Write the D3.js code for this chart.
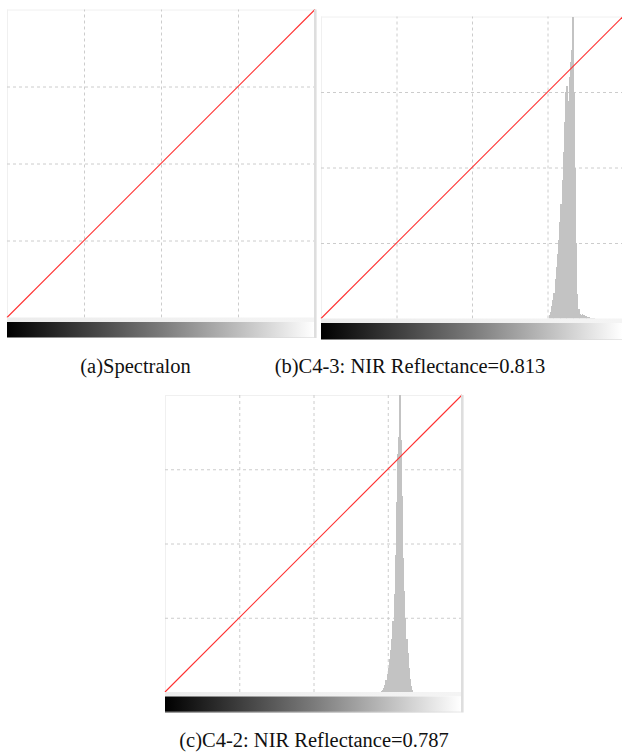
<!DOCTYPE html>
<html>
<head>
<meta charset="utf-8">
<script src="https://cdn.jsdelivr.net/npm/d3@7"></script>
<style>
  html, body { margin: 0; padding: 0; background: #ffffff; }
  svg { display: block; }
</style>
</head>
<body>
<svg id="chart" width="622" height="754"></svg>
<script>
// ---------------- data ----------------
const captions = [
  "(a)Spectralon",
  "(b)C4-3: NIR Reflectance=0.813",
  "(c)C4-2: NIR Reflectance=0.787"
];
const gridFractions = [0.25, 0.5, 0.75];      // dashed grid positions (fraction of range)
const levelDomain = [0, 256];                  // grey levels on x
const countDomain = [0, 1];                    // normalised histogram counts on y
const diagonalX = [0, 256];                    // identity (stretch) line
const diagonalY = [0, 1];

// panel (a): Spectralon – no histogram visible
const histAStart = 0;
const histA = [];

// panel (b): C4-3 histogram, normalised counts, one value per grey level starting at histBStart
const histBStart = 193;
const histB = [0.01, 0.023, 0.04, 0.06, 0.085, 0.13, 0.17, 0.215, 0.26, 0.32,
               0.38, 0.46, 0.55, 0.65, 0.75, 0.77, 0.72, 0.80, 0.85, 0.89,
               1.0, 0.75, 0.5, 0.25, 0.08, 0.03, 0.015, 0.012, 0.015, 0.01,
               0.012, 0.008, 0.006, 0.005, 0.004, 0.003, 0.003, 0.002, 0.002];

// panel (c): C4-2 histogram
const histCStart = 186;
const histC = [0.003, 0.006, 0.015, 0.025, 0.04, 0.06, 0.08, 0.11, 0.14, 0.18,
               0.24, 0.33, 0.46, 0.64, 0.80, 0.86, 1.0, 0.85, 0.66, 0.45,
               0.34, 0.25, 0.18, 0.13, 0.08, 0.045, 0.02, 0.006];

// ---------------- layout ----------------
const panels = [
  { x: 7,   y: 9.5,  size: 308, bandH: 4.5, gradH: 16, start: histAStart, hist: histA,
    caption: captions[0], cx: 135.5, cy: 373 },
  { x: 321, y: 16.5, size: 302, bandH: 4.5, gradH: 17, start: histBStart, hist: histB,
    caption: captions[1], cx: 410, cy: 373 },
  { x: 165, y: 395,  size: 297, bandH: 4.5, gradH: 16, start: histCStart, hist: histC,
    caption: captions[2], cx: 314, cy: 747 }
];

const svg = d3.select("#chart");

const defs = svg.append("defs");
const grad = defs.append("linearGradient").attr("id", "greyRamp")
  .attr("x1", "0%").attr("x2", "100%").attr("y1", "0%").attr("y2", "0%");
grad.append("stop").attr("offset", "0%").attr("stop-color", "#000000");
grad.append("stop").attr("offset", "50%").attr("stop-color", "#7a7a7a");
grad.append("stop").attr("offset", "100%").attr("stop-color", "#ffffff");

const bandGrad = defs.append("linearGradient").attr("id", "bandRamp")
  .attr("x1", "0%").attr("x2", "100%").attr("y1", "0%").attr("y2", "0%");
bandGrad.append("stop").attr("offset", "0%").attr("stop-color", "#ececec");
bandGrad.append("stop").attr("offset", "100%").attr("stop-color", "#f4f4f4");

panels.forEach((p, i) => {
  const g = svg.append("g").attr("transform", `translate(${p.x},${p.y})`);
  const x = d3.scaleLinear().domain(levelDomain).range([0, p.size]);
  const y = d3.scaleLinear().domain(countDomain).range([p.size, 0]);

  const clipId = "clip" + i;
  defs.append("clipPath").attr("id", clipId)
    .append("rect").attr("x", 0).attr("y", 0).attr("width", p.size).attr("height", p.size);

  // plot background
  g.append("rect").attr("x", 0).attr("y", 0).attr("width", p.size).attr("height", p.size)
    .attr("fill", "#ffffff");

  // faint top and left borders
  g.append("line").attr("x1", 0).attr("x2", p.size).attr("y1", 0.5).attr("y2", 0.5)
    .attr("stroke", "#f0f0f0").attr("stroke-width", 1);
  g.append("line").attr("x1", 0.5).attr("x2", 0.5).attr("y1", 0).attr("y2", p.size)
    .attr("stroke", "#f0f0f0").attr("stroke-width", 1);

  // dashed grid via axes
  const xGrid = d3.axisBottom(x)
    .tickValues(gridFractions.map(f => levelDomain[0] + f * (levelDomain[1] - levelDomain[0])))
    .tickSize(-p.size).tickFormat("");
  const yGrid = d3.axisLeft(y)
    .tickValues(gridFractions.map(f => countDomain[0] + f * (countDomain[1] - countDomain[0])))
    .tickSize(-p.size).tickFormat("");
  const gx = g.append("g").attr("transform", `translate(0,${p.size})`).call(xGrid);
  const gy = g.append("g").call(yGrid);
  [gx, gy].forEach(ax => {
    ax.select(".domain").remove();
    ax.selectAll("line").attr("stroke", "#cccccc").attr("stroke-width", 1)
      .attr("stroke-dasharray", "3,3");
  });

  // histogram bars
  const bins = p.hist.map((v, k) => ({ level: p.start + k, count: v }));
  g.append("g").attr("clip-path", `url(#${clipId})`)
    .selectAll("rect").data(bins).enter().append("rect")
    .attr("x", d => x(d.level))
    .attr("width", d => x(d.level + 1) - x(d.level) + 0.15)
    .attr("y", d => y(d.count))
    .attr("height", d => y(0) - y(d.count))
    .attr("fill", "#c3c3c3")
    .attr("shape-rendering", "crispEdges");

  // identity (stretch) line
  const diag = diagonalX.map((v, k) => [v, diagonalY[k]]);
  g.append("path").datum(diag)
    .attr("d", d3.line().x(d => x(d[0])).y(d => y(d[1])))
    .attr("fill", "none").attr("stroke", "#ff3030").attr("stroke-width", 1.1);

  // right border (thicker light grey)
  g.append("rect").attr("x", p.size - 1).attr("y", 0).attr("width", 2.6)
    .attr("height", p.size + p.bandH + p.gradH).attr("fill", "#dedede");

  // light band below plot
  g.append("rect").attr("x", 0).attr("y", p.size).attr("width", p.size - 1)
    .attr("height", p.bandH).attr("fill", "url(#bandRamp)");

  // grey-level ramp
  g.append("rect").attr("x", 0).attr("y", p.size + p.bandH).attr("width", p.size - 1)
    .attr("height", p.gradH).attr("fill", "url(#greyRamp)");
  g.append("line").attr("x1", 0).attr("x2", p.size - 1)
    .attr("y1", p.size + p.bandH + p.gradH - 0.5).attr("y2", p.size + p.bandH + p.gradH - 0.5)
    .attr("stroke", "#d8d8d8").attr("stroke-opacity", 0.6);

  // caption
  svg.append("text").attr("x", p.cx).attr("y", p.cy)
    .attr("text-anchor", "middle")
    .attr("font-family", "'Liberation Serif', 'Times New Roman', serif")
    .attr("font-size", 20.5).attr("fill", "#111111")
    .text(p.caption);
});
</script>
</body>
</html>
